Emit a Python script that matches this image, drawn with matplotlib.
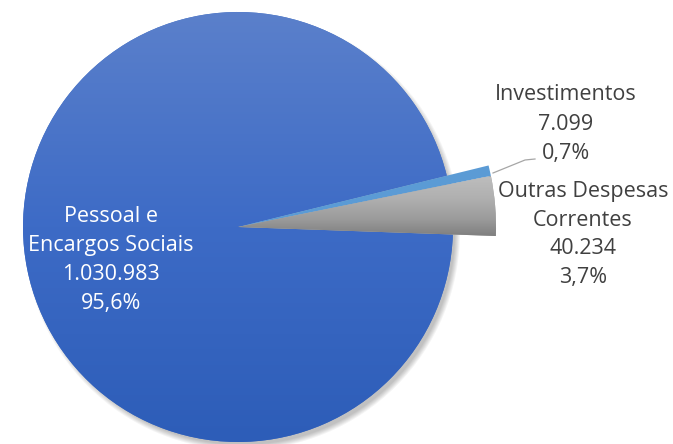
import numpy as np
import matplotlib
matplotlib.use('Agg')
import matplotlib.pyplot as plt
from matplotlib.colors import LinearSegmentedColormap
from matplotlib.patches import Circle

# data (R$ mil)
categorias = ['Outras Despesas\nCorrentes', 'Investimentos', 'Pessoal e\nEncargos Sociais']
valores = [40234, 7099, 1030983]
valores_txt = ['40.234', '7.099', '1.030.983']
percentuais = ['3,7%', '0,7%', '95,6%']

W, H = 673, 444
fig = plt.figure(figsize=(W / 100, H / 100), dpi=100)
ax = fig.add_axes([0, 0, 1, 1])


def fy(y):
    # pixel row -> data y
    return H - y


cx, cy, r = 238, fy(227), 215

# soft shadow behind the pie (down-right)
for k in range(6):
    ax.add_patch(Circle((cx + 4, cy - 5), r + 3 - k, color='black', alpha=0.045, lw=0, zorder=0))

wedges, _ = ax.pie(valores, radius=r, center=(cx, cy), startangle=-2, counterclock=True,
                   colors=['#a5a5a5', '#5b9bd5', '#4472c4'],
                   wedgeprops=dict(linewidth=0), frame=True)
ax.set_xlim(0, W)
ax.set_ylim(0, H)
ax.set_aspect('equal')
ax.axis('off')

# small slices pulled out a bit
for w in wedges[:2]:
    w.set_radius(r * 1.2)
    w.set_zorder(3)
wedges[2].set_zorder(2)

# gradients clipped to the wedges
blue = LinearSegmentedColormap.from_list('b', ['#2d5db8', '#3d6bc6', '#5b80cb'])
grad = np.linspace(0, 1, 256).reshape(-1, 1)
im = ax.imshow(grad, extent=(cx - r, cx + r, cy - r, cy + r), origin='lower', cmap=blue,
               aspect='auto', zorder=2.5)
im.set_clip_path(wedges[2])

grey = LinearSegmentedColormap.from_list('g', ['#7a7a7a', '#9c9c9c', '#b0b0b0', '#bdbdbd'])
R2 = r * 1.2
im2 = ax.imshow(grad, extent=(cx, cx + R2, cy - 12, cy + 50), origin='lower', cmap=grey,
                aspect='auto', zorder=3.5)
im2.set_clip_path(wedges[0])

# labels
txt = dict(family=['Open Sans', 'DejaVu Sans'], fontsize=15.5, ha='center', va='center')
for i, linha in enumerate(['Pessoal e', 'Encargos Sociais', valores_txt[2], percentuais[2]]):
    ax.text(111, fy(217 + 29 * i), linha, color='white', zorder=5, **txt)

for i, linha in enumerate(['Investimentos', valores_txt[1], percentuais[1]]):
    ax.text(566, fy(95 + 29 * i), linha, color='#404040', zorder=5, **txt)

for i, linha in enumerate(['Outras Despesas', 'Correntes', valores_txt[0], percentuais[0]]):
    ax.text(583, fy(191 + 29 * i), linha, color='#404040', zorder=5, **txt)

# leader line for Investimentos
ax.plot([493, 525, 535], [fy(173), fy(160), fy(159)], color='#a6a6a6', lw=0.9, zorder=4)

fig.savefig('out.png', dpi=100)
